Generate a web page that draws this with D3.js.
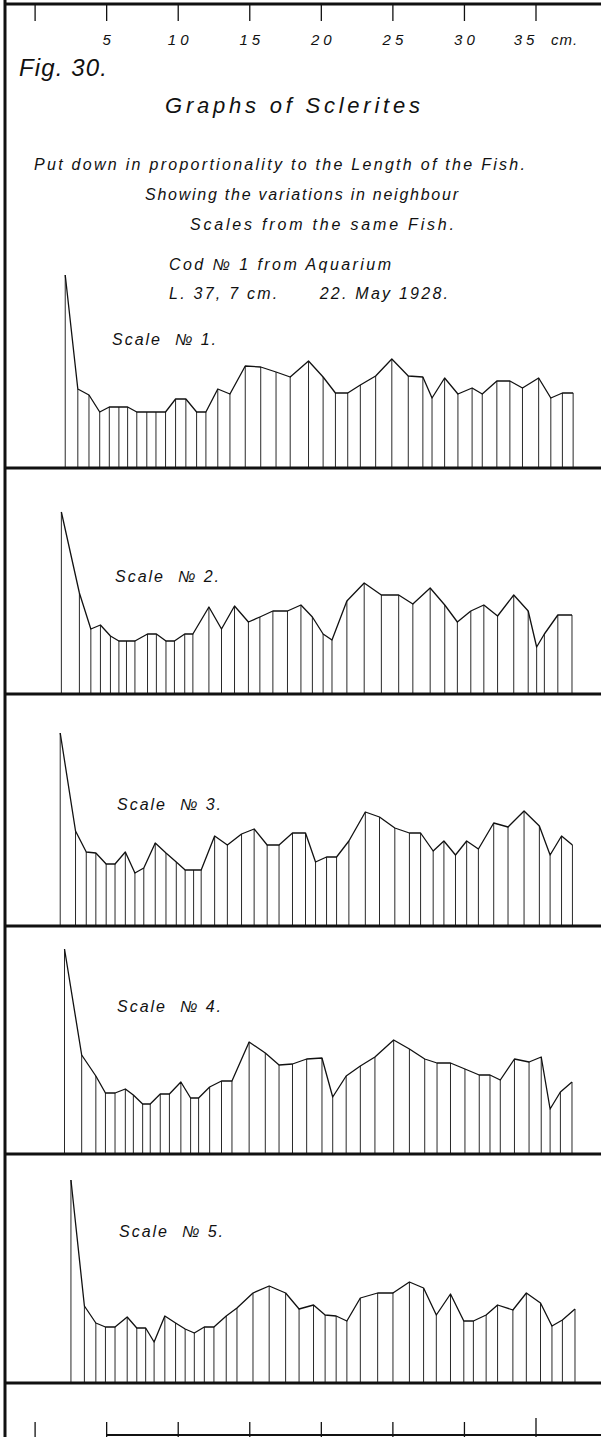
<!DOCTYPE html>
<html>
<head>
<meta charset="utf-8">
<script src="https://cdn.jsdelivr.net/npm/d3@7"></script>
<style>
body { margin: 0; background: #fff; }
text { font-family: "Liberation Sans", "DejaVu Sans", sans-serif; font-style: italic; fill: #111; white-space: pre; }
</style>
</head>
<body>
<div id="fig"></div>
<script>
// fish length scale along the top / bottom (cm)
var cm_ticks = [0, 5, 10, 15, 20, 25, 30, 35];

var scale_names = ["Scale  \u2116 1.", "Scale  \u2116 2.", "Scale  \u2116 3.", "Scale  \u2116 4.", "Scale  \u2116 5."];

// sclerite positions (cm, proportional to fish length) and widths for each scale
var scale1_pos = [2.14, 3.02, 3.80, 4.55, 5.22, 5.89, 6.50, 7.14, 7.84, 8.48, 9.15, 9.85, 10.57, 11.32, 11.97, 12.80, 13.65, 14.72, 15.80, 16.87, 17.86, 19.14, 20.16, 21.02, 21.88, 22.76, 23.83, 24.96, 26.11, 27.13, 27.77, 28.65, 29.58, 30.57, 31.28, 32.30, 33.21, 34.09, 35.22, 36.07, 36.88, 37.63];
var scale1_val = [19.3, 7.9, 7.3, 5.6, 6.1, 6.1, 6.1, 5.6, 5.6, 5.6, 5.6, 6.9, 6.9, 5.6, 5.6, 7.9, 7.4, 10.2, 10.1, 9.6, 9.1, 10.7, 9.1, 7.5, 7.5, 8.3, 9.2, 10.9, 9.2, 9.1, 7.0, 9.0, 7.4, 8.0, 7.4, 8.7, 8.7, 8.0, 9.0, 7.0, 7.5, 7.5];

var scale2_pos = [1.87, 3.13, 3.93, 4.60, 5.30, 5.89, 6.42, 7.01, 7.89, 8.51, 9.18, 9.77, 10.49, 11.06, 12.18, 13.06, 13.97, 14.94, 15.74, 16.65, 17.67, 18.61, 19.41, 20.16, 20.78, 21.82, 23.03, 24.23, 25.44, 26.43, 27.64, 28.66, 29.54, 30.48, 31.39, 32.35, 33.48, 34.49, 35.08, 35.62, 36.56, 37.55];
var scale2_val = [18.2, 10.1, 6.5, 6.9, 5.8, 5.3, 5.3, 5.3, 6.0, 6.0, 5.3, 5.3, 6.0, 6.0, 8.7, 6.5, 8.8, 7.2, 7.7, 8.3, 8.3, 8.9, 7.7, 6.0, 5.4, 9.3, 11.1, 9.9, 9.9, 9.0, 10.6, 8.9, 7.2, 8.3, 8.9, 7.8, 9.9, 8.3, 4.7, 6.0, 7.9, 7.9];

var scale3_pos = [1.79, 2.86, 3.61, 4.28, 5.00, 5.62, 6.34, 7.01, 7.63, 8.43, 9.18, 9.90, 10.52, 11.11, 11.64, 12.58, 13.47, 14.46, 15.34, 16.25, 17.08, 18.02, 18.93, 19.63, 20.40, 21.10, 21.96, 23.11, 24.10, 25.17, 26.19, 26.97, 27.85, 28.60, 29.41, 30.19, 31.01, 32.08, 33.08, 34.20, 35.27, 36.02, 36.82, 37.58];
var scale3_val = [19.3, 9.5, 7.4, 7.3, 6.2, 6.2, 7.4, 5.3, 5.8, 8.3, 7.3, 6.4, 5.6, 5.6, 5.6, 9.0, 8.1, 9.2, 9.7, 8.1, 8.1, 9.3, 9.3, 6.4, 6.9, 6.9, 8.5, 11.4, 10.9, 9.8, 9.3, 9.3, 7.5, 8.5, 7.1, 8.5, 7.7, 10.3, 9.9, 11.5, 10.0, 7.1, 9.0, 8.1];

var scale4_pos = [2.09, 3.29, 4.28, 4.95, 5.62, 6.34, 6.90, 7.55, 8.08, 8.78, 9.42, 10.22, 10.90, 11.46, 12.23, 13.06, 13.79, 14.99, 16.12, 17.08, 18.02, 19.01, 20.08, 20.83, 21.77, 22.76, 23.78, 25.09, 26.19, 27.26, 28.12, 29.06, 30.07, 31.07, 31.82, 32.54, 33.53, 34.55, 35.40, 36.02, 36.74, 37.55];
var scale4_val = [20.5, 9.9, 7.8, 6.1, 6.1, 6.5, 5.9, 5.0, 5.0, 6.0, 6.0, 7.2, 5.6, 5.6, 6.7, 7.3, 7.3, 11.2, 10.1, 8.9, 9.0, 9.5, 9.6, 5.7, 7.8, 8.8, 9.7, 11.4, 10.5, 9.5, 9.1, 9.1, 8.5, 7.9, 7.9, 7.4, 9.5, 9.2, 9.7, 4.5, 6.2, 7.2];

var scale5_pos = [2.54, 3.48, 4.28, 4.95, 5.62, 6.47, 7.14, 7.76, 8.35, 9.10, 9.85, 10.52, 11.16, 11.86, 12.53, 13.39, 14.14, 15.26, 16.39, 17.54, 18.48, 19.49, 20.30, 21.07, 21.82, 22.76, 23.97, 25.04, 26.19, 27.18, 28.07, 29.06, 29.99, 30.66, 31.55, 32.35, 33.42, 34.36, 35.35, 36.15, 36.88, 37.76];
var scale5_val = [20.3, 7.7, 6.0, 5.6, 5.6, 6.6, 5.5, 5.5, 4.1, 6.7, 6.0, 5.4, 5.0, 5.6, 5.6, 6.7, 7.5, 9.0, 9.7, 9.0, 7.4, 7.8, 6.8, 6.7, 6.2, 8.5, 9.0, 9.0, 10.1, 9.5, 6.8, 8.9, 6.2, 6.2, 6.8, 7.8, 7.3, 9.0, 8.0, 5.7, 6.3, 7.4];

var all_pos = [scale1_pos, scale2_pos, scale3_pos, scale4_pos, scale5_pos];
var all_val = [scale1_val, scale2_val, scale3_val, scale4_val, scale5_val];

const W = 601, H = 1437;
const baselines = [468, 694, 926, 1154, 1383];
const label_y = [345, 582, 810, 1012, 1237];
const label_x = [112, 115, 117, 117, 119];

var svg = d3.select('#fig')
    .append('svg')
    .attr('width', W)
    .attr('height', H);

svg.append('rect').attr('width', W).attr('height', H).attr('fill', '#fff');

var x = d3.scaleLinear().domain([0, 35]).range([34.6, 535.5]);

// frame: left edge and top edge
svg.append('line')
    .attr('x1', 5).attr('y1', 0).attr('x2', 5).attr('y2', H)
    .attr('stroke', '#111').attr('stroke-width', 3);
svg.append('line')
    .attr('x1', 4).attr('y1', 4).attr('x2', W).attr('y2', 4)
    .attr('stroke', '#111').attr('stroke-width', 3);

// top cm scale
var topAxis = svg.append('g')
    .attr('transform', 'translate(0,4)')
    .call(d3.axisBottom(x).tickValues(cm_ticks).tickSize(17).tickFormat(function(d){ return d == 0 ? "" : d; }));
topAxis.select('.domain').remove();
topAxis.selectAll('.tick line').attr('stroke', '#111').attr('stroke-width', 1.3);
topAxis.selectAll('.tick text')
    .attr('y', 41).attr('dy', null)
    .attr('font-size', 15)
    .attr('letter-spacing', 4)
    .style('font-family', '"Liberation Sans", sans-serif')
    .style('font-style', 'italic')
    .attr('fill', '#111')
    .attr('dx', function(d){ return d == 35 ? -10 : 2; });
svg.append('text')
    .attr('x', 551).attr('y', 45)
    .attr('font-size', 15)
    .attr('letter-spacing', 1)
    .text('cm.');

// headings
function label(t, x0, y0, size, len){
    svg.append('text')
        .attr('x', x0).attr('y', y0)
        .attr('font-size', size)
        .attr('textLength', len)
        .attr('lengthAdjust', 'spacing')
        .text(t);
}
label('Fig. 30.', 19, 76, 24, 88);
label('Graphs of Sclerites', 165, 113, 22, 255);
label('Put down in proportionality to the Length of the Fish.', 34, 170, 16, 491);
label('Showing the variations in neighbour', 145, 200, 16, 313);
label('Scales from the same Fish.', 190, 230, 16, 264);
label('Cod \u2116 1 from Aquarium', 169, 270, 16, 222);
label('L. 37, 7 cm.      22. May 1928.', 169, 299, 16, 279);

var line = d3.line()
    .curve(d3.curveLinear)
    .x(function(d){ return x(d[0]); })
    .y(function(d){ return d[1]; });

all_pos.forEach(function(pos, i){
    const base = baselines[i];
    var y = d3.scaleLinear().domain([0, 20]).range([base, base - 200]);
    var pts = pos.map(function(p, j){ return [p, all_val[i][j]]; });

    svg.selectAll('.v' + i)
        .data(pts)
        .enter()
        .append('line')
        .attr('class', 'v' + i)
        .attr('x1', function(d){ return x(d[0]); })
        .attr('x2', function(d){ return x(d[0]); })
        .attr('y1', base)
        .attr('y2', function(d){ return y(d[1]); })
        .attr('stroke', '#111')
        .attr('stroke-width', 0.9);

    svg.append('path')
        .datum(pts.map(function(d){ return [d[0], y(d[1])]; }))
        .attr('d', line)
        .attr('fill', 'none')
        .attr('stroke', '#111')
        .attr('stroke-width', 1.3)
        .attr('stroke-linejoin', 'round');

    // baseline of the panel
    svg.append('line')
        .attr('x1', 5).attr('y1', base).attr('x2', W).attr('y2', base)
        .attr('stroke', '#111').attr('stroke-width', 3);

    label(scale_names[i], label_x[i], label_y[i], 16, 104);
});

// bottom cm scale
var botAxis = svg.append('g')
    .attr('transform', 'translate(0,' + H + ')')
    .call(d3.axisTop(x).tickValues(cm_ticks).tickSize(15).tickFormat(""));
botAxis.select('.domain').remove();
botAxis.selectAll('.tick line')
    .attr('stroke', '#111').attr('stroke-width', 1.3)
    .attr('y2', function(d){ return d == 35 ? -19 : -15; });
svg.append('line')
    .attr('x1', x(5)).attr('y1', H - 2).attr('x2', W).attr('y2', H - 2)
    .attr('stroke', '#111').attr('stroke-width', 2);
</script>
</body>
</html>
